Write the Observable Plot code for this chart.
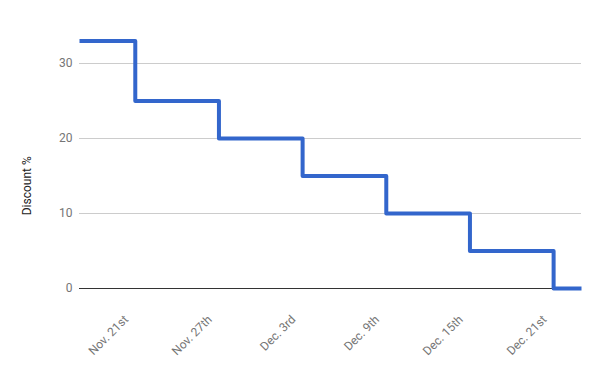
<!DOCTYPE html>
<html>
<head>
<meta charset="utf-8">
<script src="https://cdn.jsdelivr.net/npm/d3@7"></script>
<script src="https://cdn.jsdelivr.net/npm/@observablehq/plot@0.6"></script>
<style>
  html, body { margin: 0; padding: 0; background: #fff; }
  svg { display: block; }
</style>
</head>
<body>
<div id="chart"></div>
<script>
const dates = ["2017-11-17", "2017-11-21", "2017-11-27", "2017-12-03", "2017-12-09", "2017-12-15", "2017-12-21", "2017-12-23"];
const discounts = [33, 25, 20, 15, 10, 5, 0, 0];
const tickDates = ["2017-11-21", "2017-11-27", "2017-12-03", "2017-12-09", "2017-12-15", "2017-12-21"];
const tickLabels = ["Nov. 21st", "Nov. 27th", "Dec. 3rd", "Dec. 9th", "Dec. 15th", "Dec. 21st"];
const yTicks = [0, 10, 20, 30];

const data = dates.map((d, i) => ({date: new Date(d + "T00:00:00Z"), value: discounts[i]}));
const ticks = tickDates.map(d => new Date(d + "T00:00:00Z"));
const labelOf = new Map(ticks.map((t, i) => [+t, tickLabels[i]]));

const chart = Plot.plot({
  width: 600,
  height: 371,
  marginLeft: 79,
  marginRight: 19,
  marginTop: 40.5,
  marginBottom: 83,
  style: {fontFamily: "Roboto, sans-serif", fontSize: "12px", background: "#fff"},
  x: {type: "utc", domain: [data[0].date, data[data.length - 1].date]},
  y: {domain: [0, 33]},
  marks: [
    Plot.gridY(yTicks, {stroke: "#cccccc", strokeOpacity: 1}),
    Plot.ruleY([0], {stroke: "#333333", strokeWidth: 1}),
    Plot.axisY({ticks: yTicks, tickSize: 0, tickPadding: 7, label: null, fill: "#757575", fontSize: 12}),
    Plot.axisX({ticks: ticks, tickFormat: d => labelOf.get(+d), tickSize: 0, tickPadding: 14, tickRotate: -45, dx: -9, dy: 15, label: null, fill: "#757575", fontSize: 12}),
    Plot.text(["Discount %"], {frameAnchor: "left", textAnchor: "middle", dx: -52, dy: 21, rotate: -90, fill: "#222", fontSize: 12}),
    Plot.line(data, {x: "date", y: "value", curve: "step-after", stroke: "#3366cc", strokeWidth: 4, strokeLinejoin: "round", strokeLinecap: "butt"})
  ]
});
document.getElementById("chart").appendChild(chart);
</script>
</body>
</html>
